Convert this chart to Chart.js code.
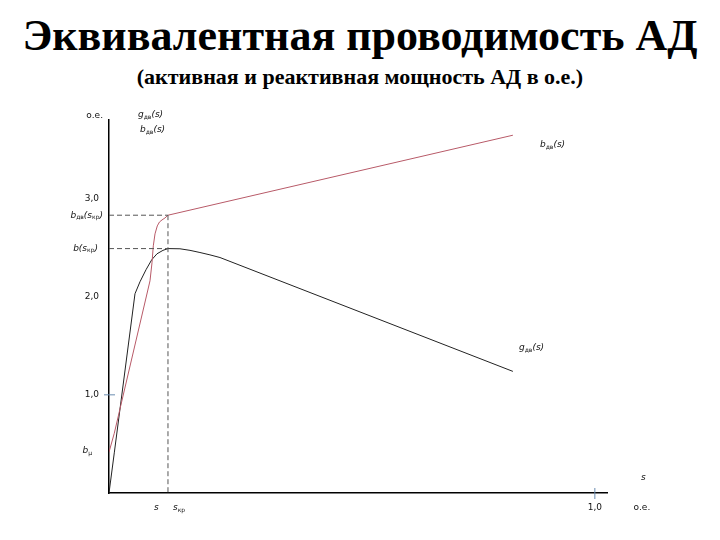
<!DOCTYPE html>
<html>
<head>
<meta charset="utf-8">
<script src="https://cdn.jsdelivr.net/npm/chart.js@4/dist/chart.umd.min.js"></script>
<style>
  html, body { margin: 0; padding: 0; background: #fff; }
  #wrap { position: relative; width: 720px; height: 540px; }
  #chart { position: absolute; left: 0; top: 0; }
  .title { position: absolute; left: 0; width: 720px; text-align: center; font-family: "Liberation Serif", "Times New Roman", serif; font-weight: bold; color: #000; white-space: nowrap; line-height: 1; }
  #t1 { top: 14px; font-size: 44px; }
  #t2 { top: 66px; font-size: 22px; }
</style>
</head>
<body>
<div id="wrap">
  <div class="title" id="t1">Эквивалентная проводимость АД</div>
  <div class="title" id="t2">(активная и реактивная мощность АД в о.е.)</div>
  <canvas id="chart" width="720" height="540"></canvas>
</div>
<script>
// данные (о.е.)
const bSlip = [0, 0.0109, 0.0844, 0.0885, 0.0912, 0.0947, 0.0994, 0.1039, 0.1091, 0.1152, 0.1214, 0.8313];
const bValues = [0.416, 0.609, 2.162, 2.345, 2.518, 2.640, 2.721, 2.761, 2.782, 2.802, 2.830, 3.645];
const gSlip = [0, 0.0109, 0.0535, 0.0638, 0.0761, 0.0879, 0.0988, 0.1111, 0.1214, 0.1461, 0.1667, 0.1872, 0.2078, 0.2284, 0.8313];
const gValues = [0, 0.409, 2.030, 2.152, 2.274, 2.376, 2.437, 2.472, 2.490, 2.488, 2.472, 2.450, 2.426, 2.399, 1.239];
const sKr = 0.1214;
const bKr = 2.83;
const gKr = 2.49;
const yTicks = [1, 2, 3];
const yTickLabels = ['1,0', '2,0', '3,0'];

const toPts = (xs, ys) => xs.map((x, i) => ({ x: x, y: ys[i] }));

const FONT = '"DejaVu Sans", sans-serif';

// текст с нижним индексом
function subText(ctx, x, y, parts, align) {
    // parts: [[text, isSub], ...]
    let total = 0;
    parts.forEach(p => {
        ctx.font = (p[1] ? '6px ' : 'italic 9px ') + FONT;
        total += ctx.measureText(p[0]).width;
    });
    let cx = align === 'right' ? x - total : x;
    ctx.textAlign = 'left';
    parts.forEach(p => {
        ctx.font = (p[1] ? '6px ' : 'italic 9px ') + FONT;
        ctx.fillText(p[0], cx, p[1] ? y + 2 : y);
        cx += ctx.measureText(p[0]).width;
    });
}

const annotations = {
    id: 'annotations',
    afterDatasetsDraw(chart) {
        const ctx = chart.ctx;
        const xs = chart.scales.x, ys = chart.scales.y;
        const x0 = xs.getPixelForValue(0), y0 = ys.getPixelForValue(0);
        const xk = xs.getPixelForValue(sKr);
        ctx.save();
        // пунктирные линии
        ctx.strokeStyle = '#555';
        ctx.lineWidth = 1;
        ctx.setLineDash([5, 3]);
        ctx.beginPath();
        ctx.moveTo(x0, ys.getPixelForValue(bKr)); ctx.lineTo(xk, ys.getPixelForValue(bKr));
        ctx.moveTo(x0, ys.getPixelForValue(gKr)); ctx.lineTo(xk, ys.getPixelForValue(gKr));
        ctx.moveTo(xk, ys.getPixelForValue(bKr)); ctx.lineTo(xk, y0);
        ctx.stroke();
        ctx.setLineDash([]);

        // синие штрихи на 1,0
        ctx.strokeStyle = '#6a8cb0';
        ctx.beginPath();
        const y1 = ys.getPixelForValue(1);
        ctx.moveTo(x0 - 5, y1); ctx.lineTo(x0 + 6, y1);
        const x1 = xs.getPixelForValue(1);
        ctx.moveTo(x1, y0 - 5); ctx.lineTo(x1, y0 + 6);
        ctx.stroke();

        ctx.fillStyle = '#111';
        ctx.textBaseline = 'middle';
        ctx.font = '9px ' + FONT;
        ctx.textAlign = 'right';
        yTicks.forEach((v, i) => ctx.fillText(yTickLabels[i], x0 - 10, ys.getPixelForValue(v)));
        ctx.fillText('о.е.', x0 - 6, chart.chartArea.top - 4);

        ctx.textAlign = 'center';
        ctx.fillText('1,0', x1, y0 + 15);
        ctx.fillText('о.е.', x1 + 47, y0 + 15);

        subText(ctx, 138, 115, [['g', false], ['дв', true], ['(s)', false]]);
        subText(ctx, 140, 130, [['b', false], ['дв', true], ['(s)', false]]);
        subText(ctx, 103, ys.getPixelForValue(bKr), [['b', false], ['дв', true], ['(s', false], ['кр', true], [')', false]], 'right');
        subText(ctx, 98, ys.getPixelForValue(gKr), [['b(s', false], ['кр', true], [')', false]], 'right');
        subText(ctx, 92, 451, [['b', false], ['μ', true]], 'right');
        subText(ctx, 154, y0 + 15, [['s', false]]);
        subText(ctx, xk + 5, y0 + 15, [['s', false], ['кр', true]]);
        subText(ctx, 641, y0 - 15, [['s', false]]);
        subText(ctx, 540, 145, [['b', false], ['дв', true], ['(s)', false]]);
        subText(ctx, 519, 348, [['g', false], ['дв', true], ['(s)', false]]);
        ctx.restore();
    }
};

new Chart(document.getElementById('chart'), {
    type: 'line',
    data: {
        datasets: [
            { label: 'b', data: toPts(bSlip, bValues), borderColor: '#b85a68', borderWidth: 1, pointRadius: 0, tension: 0, fill: false },
            { label: 'g', data: toPts(gSlip, gValues), borderColor: '#222', borderWidth: 1, pointRadius: 0, tension: 0, fill: false }
        ]
    },
    options: {
        responsive: false,
        animation: false,
        layout: { padding: { left: 109, right: 113, top: 120, bottom: 47 } },
        plugins: { legend: { display: false }, tooltip: { enabled: false } },
        scales: {
            x: {
                type: 'linear', min: 0, max: 1.025,
                grid: { display: false, drawTicks: false },
                ticks: { display: false },
                border: { color: '#000', width: 1.5 },
                afterFit: s => { s.height = 0; }
            },
            y: {
                type: 'linear', min: 0, max: 3.8,
                grid: { display: false, drawTicks: false },
                ticks: { display: false },
                border: { color: '#000', width: 1.5 },
                afterFit: s => { s.width = 0; }
            }
        }
    },
    plugins: [annotations]
});
</script>
</body>
</html>
